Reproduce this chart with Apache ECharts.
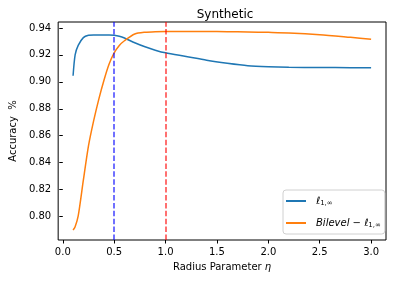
<!DOCTYPE html>
<html>
<head>
<meta charset="utf-8">
<script src="https://cdn.jsdelivr.net/npm/echarts@6/dist/echarts.min.js"></script>
<style>html,body{margin:0;padding:0;background:#fff;}#c{width:396px;height:282px;}</style>
</head>
<body>
<div id="c"></div>
<script>
var etaValues = [0.1, 0.12, 0.15, 0.2, 0.25, 0.3, 0.35, 0.4, 0.45, 0.5, 0.55, 0.6, 0.7, 0.8, 0.9, 1.0, 1.2, 1.4, 1.6, 1.8, 2.0, 2.2, 2.5, 2.8, 3.0];
var l1infAcc = [0.9045, 0.9200, 0.9270, 0.9328, 0.9345, 0.9347, 0.9347, 0.9347, 0.9347, 0.9345, 0.9338, 0.9325, 0.9290, 0.9260, 0.9235, 0.9215, 0.9188, 0.9160, 0.9138, 0.9120, 0.9112, 0.9108, 0.9106, 0.9105, 0.9104];
var bilevelAcc = [0.7900, 0.7925, 0.8005, 0.8270, 0.8525, 0.8710, 0.8870, 0.9010, 0.9130, 0.9215, 0.9270, 0.9305, 0.9355, 0.9368, 0.9372, 0.9373, 0.9373, 0.9373, 0.9372, 0.9370, 0.9367, 0.9363, 0.9350, 0.9330, 0.9316];
var xTicks = [0.0, 0.5, 1.0, 1.5, 2.0, 2.5, 3.0];
var yTicks = [0.80, 0.82, 0.84, 0.86, 0.88, 0.90, 0.92, 0.94];
var vLines = [0.5, 1.0];
var seriesNames = ['ℓ1,∞', 'Bilevel − ℓ1,∞'];

function pairs(xs, ys) { return xs.map(function (x, i) { return [x, ys[i]]; }); }

var FONT = 'DejaVu Sans';
var chart = echarts.init(document.getElementById('c'), null, { renderer: 'canvas' });
chart.setOption({
  backgroundColor: '#ffffff',
  animation: false,
  title: {
    text: 'Synthetic',
    left: 220,
    top: 4,
    textAlign: 'center',
    textStyle: { fontFamily: FONT, fontSize: 12, fontWeight: 'normal', color: '#000' }
  },
  grid: {
    left: 54, right: 10, top: 22, bottom: 42,
    show: true, borderColor: '#000', borderWidth: 1, backgroundColor: 'transparent'
  },
  legend: {
    data: seriesNames,
    orient: 'vertical',
    left: 283,
    top: 190,
    icon: 'rect',
    itemWidth: 20,
    itemHeight: 2,
    itemGap: 8,
    padding: [4, 4, 4, 3],
    backgroundColor: 'rgba(255,255,255,0.8)',
    borderColor: '#d0d0d0',
    borderWidth: 1,
    borderRadius: 3,
    formatter: function (name) {
      return name === seriesNames[0]
        ? '{it|ℓ}{sub|1,∞}'
        : '{it|Bilevel} − {it|ℓ}{sub|1,∞}';
    },
    textStyle: {
      fontFamily: FONT, fontSize: 10, color: '#000', lineHeight: 14, padding: [0, 0, 0, 5],
      rich: {
        it: { fontFamily: FONT, fontSize: 10, fontStyle: 'italic', color: '#000', lineHeight: 14 },
        sub: { fontFamily: FONT, fontSize: 7, color: '#000', lineHeight: 14, padding: [5, 0, 0, 0] }
      }
    }
  },
  xAxis: {
    type: 'value',
    min: -0.045,
    max: 3.145,
    name: 'Radius Parameter {i|η}',
    nameLocation: 'middle',
    nameGap: 22,
    nameTextStyle: {
      fontFamily: FONT, fontSize: 10, color: '#000',
      rich: { i: { fontFamily: FONT, fontSize: 10, fontStyle: 'italic', color: '#000' } }
    },
    axisLine: { show: false },
    splitLine: { show: false },
    axisTick: { show: true, customValues: xTicks, length: 3.5, inside: false, lineStyle: { color: '#000', width: 1 } },
    axisLabel: {
      customValues: xTicks, margin: 7, fontFamily: FONT, fontSize: 10, color: '#000',
      formatter: function (v) { return v.toFixed(1); }
    }
  },
  yAxis: {
    type: 'value',
    min: 0.7826,
    max: 0.9444,
    name: 'Accuracy  %',
    nameLocation: 'middle',
    nameGap: 35,
    nameTextStyle: { fontFamily: FONT, fontSize: 10, color: '#000' },
    axisLine: { show: false },
    splitLine: { show: false },
    axisTick: { show: true, customValues: yTicks, length: 3.5, inside: false, lineStyle: { color: '#000', width: 1 } },
    axisLabel: {
      customValues: yTicks, margin: 7, fontFamily: FONT, fontSize: 10, color: '#000',
      formatter: function (v) { return v.toFixed(2); }
    }
  },
  series: [
    {
      name: seriesNames[0], type: 'line', data: pairs(etaValues, l1infAcc),
      showSymbol: false, symbol: 'none', smooth: 0.25,
      lineStyle: { color: '#1f77b4', width: 1.5 }, itemStyle: { color: '#1f77b4' }
    },
    {
      name: seriesNames[1], type: 'line', data: pairs(etaValues, bilevelAcc),
      showSymbol: false, symbol: 'none', smooth: 0.25,
      lineStyle: { color: '#ff7f0e', width: 1.5 }, itemStyle: { color: '#ff7f0e' }
    },
    {
      name: 'vlines', type: 'line', data: [],
      markLine: {
        silent: true, symbol: 'none', label: { show: false },
        data: [
          { xAxis: vLines[0], lineStyle: { color: 'rgba(0,0,255,0.75)', width: 1.5, type: [5.5, 2.4] } },
          { xAxis: vLines[1], lineStyle: { color: 'rgba(255,0,0,0.75)', width: 1.5, type: [5.5, 2.4] } }
        ]
      }
    }
  ]
});
</script>
</body>
</html>
